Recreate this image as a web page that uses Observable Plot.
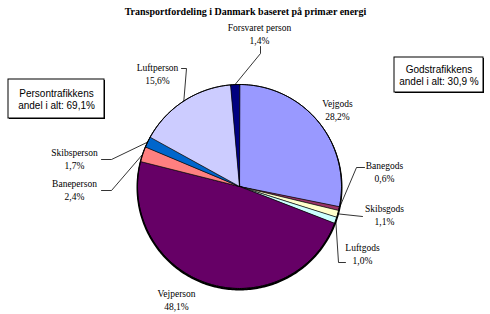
<!DOCTYPE html>
<html><head><meta charset="utf-8">
<script src="https://cdn.jsdelivr.net/npm/d3@7"></script>
<script src="https://cdn.jsdelivr.net/npm/@observablehq/plot@0.6"></script>
<style>body{margin:0;background:#fff}</style>
</head><body><div id="chart"></div>
<script>
// ---- data ----
const categories = ["Vejgods","Banegods","Skibsgods","Luftgods","Vejperson","Baneperson","Skibsperson","Luftperson","Forsvaret person"];
const shares = [28.2,0.6,1.1,1.0,48.1,2.4,1.7,15.6,1.4];
const valueLabels = ["28,2%","0,6%","1,1%","1,0%","48,1%","2,4%","1,7%","15,6%","1,4%"];
const title = "Transportfordeling i Danmark baseret på primær energi";
const groupNotes = ["Persontrafikkens\nandel i alt: 69,1%", "Godstrafikkens\nandel i alt: 30,9 %"];

// ---- styles ----
const colors = ["#9999ff","#993366","#ffffcc","#ccffff","#660066","#ff8080","#0066cc","#ccccff","#000080"];

// ---- layout (pixels) ----
const W = 490, H = 314, CX = 239, CY = 186, R = 102;
const toX = px => (px - CX) / R, toY = py => (CY - py) / R;
const labelAt = {
  "Vejgods":[337,109], "Banegods":[384,171], "Skibsgods":[384,214], "Luftgods":[362,253],
  "Vejperson":[176,299], "Baneperson":[74,189], "Skibsperson":[74,158], "Luftperson":[157,73],
  "Forsvaret person":[259,33]
};
const leaderFrom = {
  "Forsvaret person":[[260,46],[260,53]],
  "Luftperson":[[181,68],[186,68]],
  "Skibsperson":[[101,159],[111,159]],
  "Baneperson":[[101,190],[111,190]],
  "Banegods":[[364,167],[356,167]],
  "Skibsgods":[[362,216]],
  "Luftgods":[[345,262],[338,262]]
};
const boxes = [
  {text: groupNotes[0], x1: 8, x2: 104, y1: 79, y2: 118},
  {text: groupNotes[1], x1: 394, x2: 483, y1: 57, y2: 92}
];

// ---- build ----
const data = categories.map((name, i) => ({name, share: shares[i], value: valueLabels[i]}));
const arcs = d3.pie().sort(null).value(d => d.share)(data);
const polys = [];
for (const a of arcs) {
  const n = Math.max(2, Math.ceil((a.endAngle - a.startAngle) / 0.01));
  polys.push({name: a.data.name, x: 0, y: 0});
  for (let k = 0; k <= n; k++) {
    const t = a.startAngle + (a.endAngle - a.startAngle) * k / n;
    polys.push({name: a.data.name, x: Math.sin(t), y: Math.cos(t)});
  }
}
const rim = d3.range(0, 361).map(d => ({x: Math.sin(d * Math.PI / 180), y: Math.cos(d * Math.PI / 180)}));

const labels = data.map(d => ({x: toX(labelAt[d.name][0]), y: toY(labelAt[d.name][1]), text: d.name + "\n" + d.value}));
const leaders = [];
for (const a of arcs) {
  const pts = leaderFrom[a.data.name];
  if (!pts) continue;
  const m = (a.startAngle + a.endAngle) / 2;
  pts.forEach(p => leaders.push({name: a.data.name, x: toX(p[0]), y: toY(p[1])}));
  leaders.push({name: a.data.name, x: Math.sin(m), y: Math.cos(m)});
}
const boxData = boxes.map(b => ({text: b.text, x1: toX(b.x1), x2: toX(b.x2), y1: toY(b.y1), y2: toY(b.y2), xm: toX((b.x1 + b.x2) / 2), ym: toY((b.y1 + b.y2) / 2)}));

const chart = Plot.plot({
  width: W, height: H,
  marginTop: 0, marginRight: 0, marginBottom: 0, marginLeft: 0,
  x: {domain: [-1, 1], range: [CX - R, CX + R], axis: null},
  y: {domain: [-1, 1], range: [CY + R, CY - R], axis: null},
  color: {domain: categories, range: colors},
  marks: [
    Plot.line(rim, {x: "x", y: "y", stroke: "black", strokeWidth: 2, dy: 1}),
    Plot.line(polys, {x: "x", y: "y", z: "name", fill: "name", stroke: "black", strokeWidth: 0.7, curve: "linear-closed", strokeLinejoin: "round"}),
    Plot.line(rim, {x: "x", y: "y", stroke: "black", strokeWidth: 1}),
    Plot.line(leaders, {x: "x", y: "y", z: "name", stroke: "black", strokeWidth: 0.8}),
    Plot.text(labels, {x: "x", y: "y", text: "text", fontFamily: "Liberation Serif", fontSize: 9.5, lineHeight: 1.3, fill: "black"}),
    Plot.rect(boxData, {x1: "x1", x2: "x2", y1: "y1", y2: "y2", fill: "black", dx: 1, dy: 1}),
    Plot.rect(boxData, {x1: "x1", x2: "x2", y1: "y1", y2: "y2", fill: "white", stroke: "black", strokeWidth: 1}),
    Plot.text(boxData, {x: "xm", y: "ym", text: "text", fontFamily: "Liberation Sans", fontSize: 10, lineHeight: 1.25, fill: "black"}),
    Plot.text([title], {frameAnchor: "top", dy: 7, text: d => d, fontFamily: "Liberation Serif", fontWeight: "bold", fontSize: 10})
  ]
});
document.getElementById("chart").appendChild(chart);
</script>
</body></html>
